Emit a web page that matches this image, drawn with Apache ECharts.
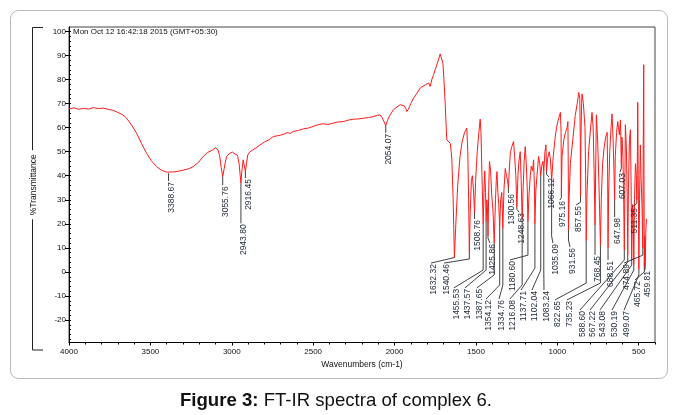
<!DOCTYPE html>
<html>
<head>
<meta charset="utf-8">
<script src="https://cdn.jsdelivr.net/npm/echarts@6/dist/echarts.min.js"></script>
<style>
  html, body { margin: 0; padding: 0; background: #fff; }
  #chart { width: 676px; height: 415px; }
</style>
</head>
<body>
<div id="chart"></div>
<script>
// FT-IR spectrum, wavenumber (cm-1) against %Transmittance
const wavenumber = [
  4000, 3970, 3940, 3910, 3880, 3850, 3820, 3790, 3760, 3731, 3700, 3670, 3647, 3615, 3585, 3555, 3524, 3495, 3462, 3430,
  3400, 3388.67, 3350, 3300, 3260, 3237, 3205, 3176, 3150, 3120, 3100, 3085, 3075, 3065, 3055.76, 3048, 3040, 3032, 3015, 2995,
  2980, 2965, 2955, 2948, 2943.80, 2938, 2930, 2924, 2916.45, 2910, 2902, 2890, 2870, 2850, 2827, 2800, 2770, 2745, 2720, 2700,
  2680, 2660, 2640, 2622, 2590, 2560, 2530, 2499, 2470, 2440, 2410, 2380, 2350, 2315, 2285, 2250, 2220, 2190, 2160, 2130,
  2105, 2089, 2075, 2065, 2054.07, 2045, 2030, 2007, 1985, 1966, 1955, 1940, 1930, 1925, 1915, 1900, 1883, 1865, 1843, 1825,
  1810, 1791, 1781, 1770, 1760, 1750, 1735, 1725, 1720, 1712, 1703, 1695, 1689, 1684, 1679, 1668, 1658, 1652, 1648, 1640,
  1632.32, 1625, 1612, 1598, 1585, 1570, 1556, 1550, 1545, 1540.46, 1535, 1528, 1522, 1515, 1508.76, 1502, 1492, 1482, 1474, 1469,
  1463, 1455.53, 1450, 1446, 1441, 1437.57, 1433, 1429, 1425.86, 1421, 1417, 1410, 1403, 1395, 1387.65, 1380, 1375, 1371, 1365, 1360,
  1354.12, 1348, 1341, 1334.76, 1328, 1320, 1312, 1306, 1300.56, 1294, 1288, 1280, 1269, 1262, 1255, 1248.63, 1242, 1236, 1228, 1222,
  1216.08, 1210, 1204, 1197, 1190, 1185, 1180.60, 1174, 1166, 1160, 1152, 1146, 1141, 1137.71, 1132, 1125, 1115, 1108, 1102.04, 1096,
  1089, 1083.24, 1076, 1070, 1066.12, 1060, 1050, 1043, 1038, 1035.09, 1025, 1015, 1005, 995, 981, 977, 975.16, 971, 960, 950,
  940, 935, 933, 931.56, 928, 920, 905, 890, 878, 868, 862, 859, 857.55, 855, 850, 848, 840, 830, 826, 822.65,
  818, 808, 798, 787, 780, 774, 768.45, 764, 760, 752, 745, 740, 735.23, 730, 722, 712, 703, 694, 691, 688.51,
  685, 678, 670, 664, 658, 652, 647.98, 644, 636, 629, 624, 619, 612, 609, 607.03, 603, 597, 592, 588.60, 585,
  582, 576, 571, 567.22, 563, 557, 551, 547, 543.08, 538, 534, 530.19, 526, 520, 515, 511.35, 508, 506, 503, 499.07,
  495, 490, 486, 480, 474.89, 472, 469.3, 467.5, 465.72, 463, 459.81, 456, 452
];
const transmittance = [
  67.8, 68.2, 67.6, 68.0, 67.7, 68.3, 67.9, 68.1, 67.6, 67.2, 66.3, 65.3, 64.0, 61.0, 57.7, 53.5, 49.4, 46.3, 43.8, 42.2,
  41.5, 41.0, 41.6, 42.3, 43.0, 43.8, 45.5, 48.0, 49.6, 50.6, 51.6, 50.8, 48.5, 43.5, 39.6, 42.5, 45.5, 48.0, 49.2, 49.8,
  49.0, 48.5, 45.0, 40.0, 36.9, 42.0, 46.6, 44.5, 41.7, 45.0, 48.6, 49.8, 50.8, 51.6, 52.8, 54.0, 55.0, 56.3, 56.6, 56.9,
  57.2, 57.9, 57.6, 58.4, 58.8, 59.5, 59.8, 60.5, 61.2, 61.6, 61.3, 61.8, 62.3, 62.5, 63.1, 63.5, 63.6, 63.9, 64.2, 64.6,
  65.1, 65.3, 64.0, 62.5, 60.8, 62.8, 65.0, 67.4, 68.6, 69.5, 69.9, 69.0, 67.8, 66.7, 67.6, 70.0, 72.3, 74.0, 76.4, 77.2,
  77.8, 78.5, 77.1, 80.2, 82.0, 84.1, 87.2, 89.3, 90.6, 89.8, 86.8, 78.0, 70.2, 62.0, 54.9, 54.2, 53.5, 50.0, 46.6, 30.0,
  6.0, 18.0, 36.0, 48.0, 54.0, 58.0, 59.8, 50.0, 30.0, 8.0, 25.0, 38.0, 40.0, 34.0, 24.4, 38.0, 50.0, 58.0, 63.5, 58.0,
  40.0, 20.0, 35.0, 42.0, 33.0, 21.0, 30.0, 26.0, 15.0, 36.0, 45.9, 42.0, 32.0, 25.0, 12.0, 30.0, 38.0, 41.7, 33.0, 28.0,
  19.0, 30.0, 33.0, 18.0, 34.0, 43.0, 40.0, 38.0, 35.0, 44.0, 50.0, 52.0, 54.2, 48.0, 40.0, 27.0, 40.0, 46.0, 50.0, 38.0,
  22.0, 35.0, 46.0, 52.1, 44.0, 35.0, 21.0, 32.0, 40.0, 44.0, 42.0, 46.6, 36.0, 20.0, 34.0, 40.0, 48.0, 45.0, 40.0, 44.0,
  46.0, 42.0, 50.0, 52.8, 41.7, 47.0, 50.0, 47.0, 42.0, 38.0, 48.0, 55.0, 60.0, 63.0, 66.3, 58.0, 32.8, 48.0, 55.0, 58.0,
  60.0, 62.5, 45.0, 17.4, 30.0, 45.0, 55.0, 65.0, 70.0, 74.6, 72.0, 55.0, 31.3, 55.0, 72.0, 74.0, 70.0, 60.0, 40.0, 13.0,
  32.0, 50.0, 58.0, 66.3, 60.0, 42.0, 19.5, 45.0, 65.3, 54.0, 38.0, 25.0, 11.0, 30.0, 45.0, 52.0, 56.0, 58.0, 42.0, 10.0,
  32.0, 50.0, 60.0, 65.7, 56.0, 42.0, 30.0, 48.0, 58.0, 62.5, 60.0, 57.0, 63.2, 52.0, 45.0, 56.0, 48.0, 28.0, 9.0, 35.0,
  61.2, 52.0, 32.0, 7.0, 35.0, 55.0, 59.1, 38.0, 5.0, 28.0, 24.0, 3.0, 30.0, 45.0, 40.0, 30.0, 50.0, 70.5, 40.0, 1.0,
  30.0, 52.8, 40.0, 28.0, 10.0, 55.0, 86.1, 40.0, 2.0, 15.0, 4.0, 18.0, 22.0
];

// Labelled band positions (cm-1)
const peakPositions = [
  3388.67, 3055.76, 2943.80, 2916.45, 2054.07,
  1632.32, 1540.46, 1508.76, 1455.53, 1437.57, 1425.86, 1387.65, 1354.12, 1334.76, 1300.56,
  1248.63, 1216.08, 1180.60, 1137.71, 1102.04, 1083.24, 1066.12, 1035.09, 975.16, 931.56,
  857.55, 822.65, 768.45, 735.23, 688.51, 647.98, 607.03, 588.60, 567.22, 543.08,
  530.19, 511.35, 499.07, 474.89, 465.72, 459.81
];

// Where each band label sits: [leader end (cm-1), text top (%T), leader bend (%T) or null]
const labelPlacement = [
  [3388.67, 37.8, null], [3055.76, 36.0, null], [2943.80, 20.2, null], [2916.45, 39.0, null], [2054.07, 57.8, null],
  [1776, 3.7, null], [1696, 3.7, 5.4], [1508.76, 22.0, null], [1635, -6.6, 0.8], [1567, -6.6, 0.8],
  [1414, 12.0, 14.0], [1494, -6.6, -1.2], [1438, -11.2, -5.4], [1358, -11.2, -5.4], [1300.56, 32.8, null],
  [1236, 24.9, 26.0], [1291, -11.2, -5.4], [1291, 5.0, 7.0], [1223, -7.5, 1.6], [1156, -7.5, 0.8],
  [1082, -7.5, 0.8], [1051, 39.5, 40.5], [1027, 12.0, 15.0], [984, 29.9, 31.0], [922, 10.4, 13.3],
  [885, 27.8, 29.0], [1014, -11.6, -4.6], [768.45, 7.1, null], [941, -11.6, -4.6], [688.51, 5.0, null],
  [647.98, 22.8, null], [615, 41.5, 43.0], [861, -15.8, 5.0], [799, -15.8, 4.2], [738, -15.8, 2.9],
  [664, -15.8, 0.8], [541, 27.0, 28.5], [590, -15.8, -1.2], [590, 3.7, 7.0], [523, -3.3, 0.0],
  [461.5, 0.8, 2.9]
];

const xTickLabels = [4000, 3500, 3000, 2500, 2000, 1500, 1000, 500];
const yTickLabels = [100, 90, 80, 70, 60, 50, 40, 30, 20, 10, 0, -10, -20];

const spectrum = wavenumber.map((w, i) => [w, transmittance[i]]);

const labelItems = peakPositions.map((w, i) => {
  const t = transmittance[wavenumber.indexOf(w)];
  const pl = labelPlacement[i];
  return [w, t, pl[0], pl[1], pl[2] === null ? t : pl[2]];
});

const xMinorTicks = [];
for (let v = 400; v <= 4000; v += 100) xMinorTicks.push(v);
const yMinorTicks = [];
for (let v = -28; v <= 100; v += 2) yMinorTicks.push(v);

const FONT = '"Liberation Sans", Arial, sans-serif';

function renderPeakLabel(params, api) {
  const w = api.value(0);
  const peak = api.coord([w, api.value(1)]);
  const bend = api.coord([w, api.value(4)]);
  const end = api.coord([api.value(2), api.value(3)]);
  return {
    type: 'group',
    children: [
      {
        type: 'polyline',
        shape: { points: [peak, bend, end] },
        style: { stroke: '#2b2b2b', lineWidth: 0.9, fill: null }
      },
      {
        type: 'text',
        x: end[0] + 3,
        y: end[1] + 1,
        rotation: Math.PI / 2,
        style: {
          text: w.toFixed(2),
          font: '8.5px ' + FONT,
          fill: '#1d2633',
          align: 'right',
          verticalAlign: 'middle'
        }
      }
    ]
  };
}

const chart = echarts.init(document.getElementById('chart'), null, { renderer: 'canvas' });

const axisFont = { fontFamily: FONT, fontSize: 8, color: '#111' };

chart.setOption({
  animation: false,
  backgroundColor: '#fff',
  grid: {
    left: 69, right: 21, top: 27, bottom: 72.5, containLabel: false,
    show: true, borderColor: '#444', borderWidth: 1, backgroundColor: 'transparent'
  },
  xAxis: [
    {
      type: 'value', min: 400, max: 4000, inverse: true, position: 'bottom',
      axisLine: { show: true, onZero: false, lineStyle: { color: '#000', width: 1 } },
      axisTick: { show: true, customValues: xTickLabels, length: 3, lineStyle: { color: '#000' } },
      axisLabel: { show: true, customValues: xTickLabels, margin: 5, formatter: v => String(v), ...axisFont },
      splitLine: { show: false },
      name: 'Wavenumbers (cm-1)', nameLocation: 'middle', nameGap: 17,
      nameTextStyle: { fontFamily: FONT, fontSize: 8.5, color: '#111' }
    },
    {
      type: 'value', min: 400, max: 4000, inverse: true, position: 'bottom',
      axisLine: { show: false, onZero: false },
      axisTick: { show: true, customValues: xMinorTicks, length: 2, lineStyle: { color: '#000' } },
      axisLabel: { show: false },
      splitLine: { show: false }
    }
  ],
  yAxis: [
    {
      type: 'value', min: -29.3, max: 101.8, position: 'left',
      axisLine: { show: true, onZero: false, lineStyle: { color: '#000', width: 1 } },
      axisTick: { show: true, customValues: yTickLabels, length: 4, lineStyle: { color: '#000' } },
      axisLabel: { show: true, customValues: yTickLabels, margin: 3, ...axisFont },
      splitLine: { show: false },
      name: '%Transmittance', nameLocation: 'middle', nameGap: 31, nameRotate: 90,
      nameTextStyle: { fontFamily: FONT, fontSize: 8.5, color: '#111', backgroundColor: '#fff', padding: [0, 4] }
    },
    {
      type: 'value', min: -29.3, max: 101.8, position: 'left',
      axisLine: { show: false, onZero: false },
      axisTick: { show: true, inside: true, customValues: yMinorTicks, length: 2, lineStyle: { color: '#000' } },
      axisLabel: { show: false }, splitLine: { show: false }
    }
  ],
  graphic: [
    {
      type: 'rect', z: -10, silent: true,
      shape: { x: 10.5, y: 10.5, width: 657, height: 368, r: 8 },
      style: { fill: 'none', stroke: '#b8b8b8', lineWidth: 1 }
    },
    {
      type: 'polyline', z: -5, silent: true,
      shape: { points: [[43, 27.5], [32.5, 27.5], [32.5, 350], [43, 350]] },
      style: { stroke: '#222', lineWidth: 1, fill: null }
    },
    {
      type: 'text', silent: true, x: 73, y: 32,
      style: { text: 'Mon Oct 12 16:42:18 2015 (GMT+05:30)', font: '8px ' + FONT, fill: '#111', verticalAlign: 'middle' }
    },
    {
      type: 'text', silent: true, x: 336, y: 401,
      style: {
        text: '{b|Figure 3:} FT-IR spectra of complex 6.',
        align: 'center', verticalAlign: 'middle',
        font: '18.6px ' + FONT, fill: '#111',
        rich: { b: { font: 'bold 18.6px ' + FONT, fill: '#111' } }
      }
    }
  ],
  series: [
    {
      type: 'line', xAxisIndex: 0, yAxisIndex: 0,
      data: spectrum, showSymbol: false, symbol: 'none',
      lineStyle: { color: '#ff1a1a', width: 1 },
      silent: true, z: 2
    },
    {
      type: 'custom', xAxisIndex: 0, yAxisIndex: 0,
      data: labelItems, renderItem: renderPeakLabel,
      silent: true, z: 3, clip: false
    }
  ]
});
</script>
</body>
</html>
